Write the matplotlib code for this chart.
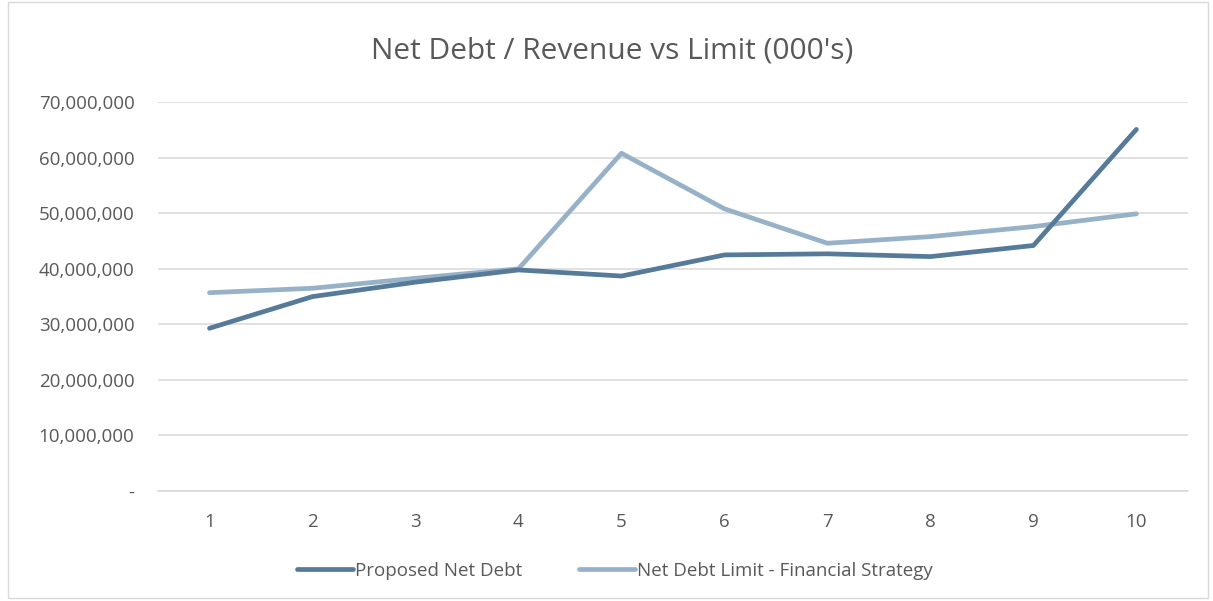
import matplotlib
matplotlib.use("agg")
import matplotlib.pyplot as plt
from matplotlib.ticker import FuncFormatter
from matplotlib.patches import Rectangle

years = [1, 2, 3, 4, 5, 6, 7, 8, 9, 10]
proposed_net_debt = [29.3e6, 35.0e6, 37.6e6, 39.8e6, 38.7e6, 42.5e6, 42.7e6, 42.2e6, 44.2e6, 65.1e6]
net_debt_limit = [35.7e6, 36.5e6, 38.3e6, 40.0e6, 60.8e6, 50.8e6, 44.6e6, 45.8e6, 47.6e6, 49.9e6]

plt.rcParams['font.family'] = ['Open Sans', 'DejaVu Sans']
text_color = '#595959'
grid_color = '#d9d9d9'

fig = plt.figure(figsize=(12.13, 6.01), dpi=100)
ax = fig.add_axes([0.1303, 0.183, 0.849, 0.647])

ax.plot(years, proposed_net_debt, color='#557a9a', linewidth=3.4,
        solid_capstyle='round', solid_joinstyle='round', label='Proposed Net Debt', zorder=3)
ax.plot(years, net_debt_limit, color='#97b2c8', linewidth=3.4,
        solid_capstyle='round', solid_joinstyle='round',
        label='Net Debt Limit - Financial Strategy', zorder=2)

ax.set_xlim(0.5, 10.5)
ax.set_ylim(0, 70e6)
ax.set_xticks(years)
ax.set_yticks(range(0, 70000001, 10000000))

def fmt(v, pos):
    if v == 0:
        return '-'
    return '{:,.0f}'.format(v)

ax.yaxis.set_major_formatter(FuncFormatter(fmt))
ax.tick_params(axis='both', length=0, labelsize=13.5, labelcolor=text_color)
ax.tick_params(axis='y', pad=17)
ax.tick_params(axis='x', pad=16)
ax.grid(axis='y', color=grid_color, linewidth=1.1)
ax.set_axisbelow(True)
for side in ['top', 'right', 'left']:
    ax.spines[side].set_visible(False)
ax.spines['bottom'].set_color(grid_color)
ax.spines['bottom'].set_linewidth(1.1)

fig.text(0.505, 0.915, "Net Debt / Revenue vs Limit (000's)", ha='center', va='center',
         fontsize=21.5, color=text_color)

leg = fig.legend(loc='center', bbox_to_anchor=(0.507, 0.05), ncol=2, frameon=False,
                 fontsize=13.5, handlelength=3.0, handletextpad=0.1, columnspacing=3.0)
for t in leg.get_texts():
    t.set_color(text_color)

fig.patches.append(Rectangle((8 / 1213, 3 / 601), 1200 / 1213, 596 / 601, transform=fig.transFigure,
                             fill=False, edgecolor=grid_color, linewidth=1.0))

fig.savefig('out.png', dpi=100)
